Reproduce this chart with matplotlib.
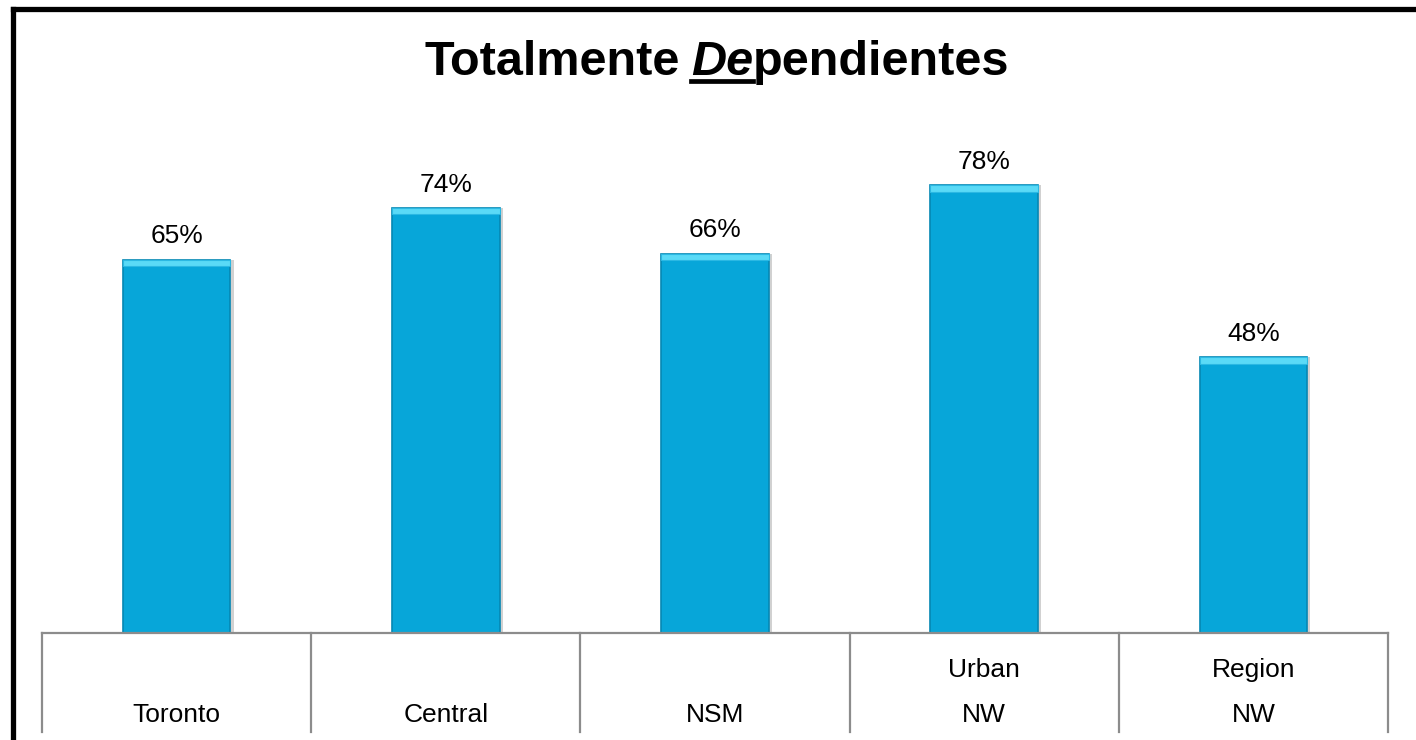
import matplotlib
matplotlib.use('Agg')
import matplotlib.pyplot as plt
from matplotlib.lines import Line2D

plt.rcParams['font.family'] = ['Liberation Sans', 'DejaVu Sans']

# data
categories = ['Toronto', 'Central', 'NSM', 'Urban\nNW', 'Region\nNW']
values = [0.65, 0.74, 0.66, 0.78, 0.48]
labels = ['65%', '74%', '66%', '78%', '48%']

W, H = 1416, 740
fig = plt.figure(figsize=(W / 100, H / 100), dpi=100)

# axes placed in pixel terms of the reference
left, right, base, top = 42, 1388, 633, 145
ax = fig.add_axes([left / W, (H - base) / H, (right - left) / W, (base - top) / H])
ymax = 0.85
ax.set_xlim(-0.5, len(categories) - 0.5)
ax.set_ylim(0, ymax)

x = range(len(categories))
bw = 0.40
# soft shadow
ax.bar([i + 0.012 for i in x], values, width=bw, color='#000000', alpha=0.18, zorder=1)
# main bars
ax.bar(x, values, width=bw, color='#07A6D9', edgecolor='#0587B3', linewidth=1.2, zorder=2)
# light bevel on top of each bar
bev = 0.011
ax.bar(x, [bev] * len(values), bottom=[v - bev for v in values], width=bw,
       color='#5ADAF7', edgecolor='#2BB8E3', linewidth=0.8, zorder=3)

for i, v in enumerate(values):
    ax.annotate(labels[i], (i, v), xytext=(0, 17), textcoords='offset points',
                ha='center', va='center', fontsize=19, color='black')

for s in ax.spines.values():
    s.set_visible(False)
ax.set_xticks([])
ax.set_yticks([])

# category table below the axis
gray = '#8C8C8C'
fig.add_artist(Line2D([left / W, right / W], [(H - base) / H] * 2, color=gray, lw=1.6))
cell = (right - left) / len(categories)
for k in range(len(categories) + 1):
    xx = (left + k * cell) / W
    fig.add_artist(Line2D([xx, xx], [(H - base) / H, (H - 732) / H], color=gray, lw=1.6))
for i, c in enumerate(categories):
    cx = (left + (i + 0.5) * cell) / W
    parts = c.split('\n')
    if len(parts) == 2:
        fig.text(cx, (H - 670) / H, parts[0], ha='center', va='center', fontsize=19)
    fig.text(cx, (H - 715) / H, parts[-1], ha='center', va='center', fontsize=19)

# title with the underlined bold-italic "De"
fig.canvas.draw()
r = fig.canvas.get_renderer()
ty = (H - 75) / H
pieces = [('Totalmente', 'normal'), ('De', 'italic'), ('pendientes', 'normal')]
texts = []
for s, st in pieces:
    t = fig.text(0, ty, s, fontsize=35, fontweight='bold', style=st,
                 va='baseline', ha='left')
    texts.append(t)
widths = [t.get_window_extent(r).width for t in texts]
space = 11
total = sum(widths) + space
x0 = 717 - total / 2
xs = [x0, x0 + widths[0] + space, x0 + widths[0] + space + widths[1]]
for t, xp in zip(texts, xs):
    t.set_x(xp / W)
fig.add_artist(Line2D([xs[1] / W, xs[2] / W], [(H - 81) / H] * 2, color='black', lw=3.4))

# frame lines (top and left)
fig.add_artist(Line2D([12.5 / W, 1], [(H - 8.5) / H] * 2, color='black', lw=3.8))
fig.add_artist(Line2D([12.5 / W, 12.5 / W], [0, (H - 8.5) / H], color='black', lw=3.8))

fig.savefig('out.png', dpi=100)
